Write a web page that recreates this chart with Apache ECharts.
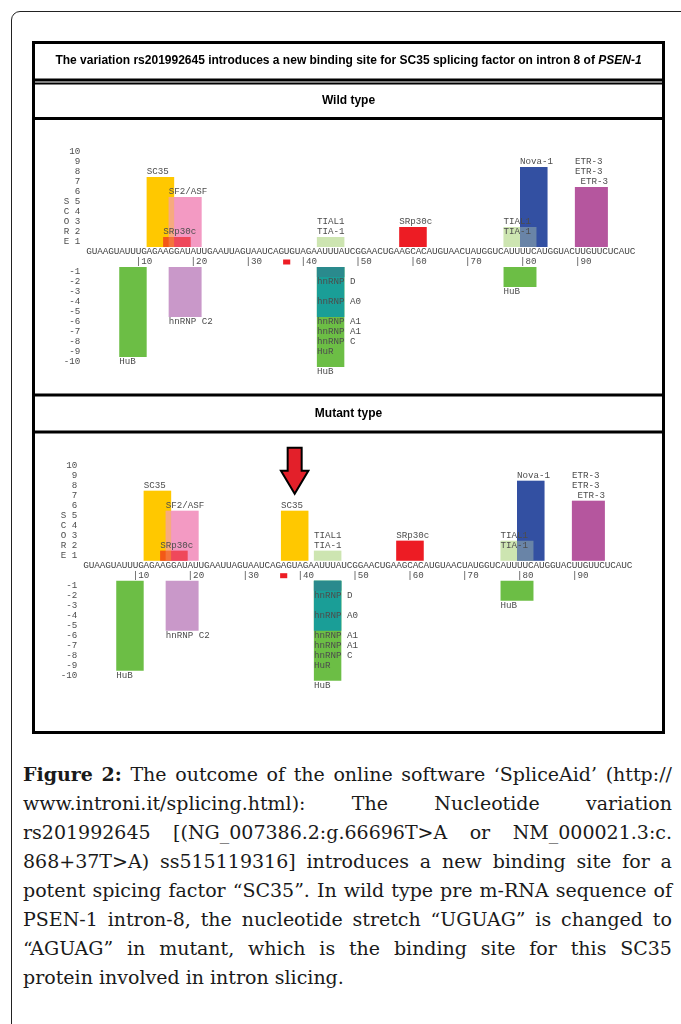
<!DOCTYPE html>
<html lang="en">
<head>
<meta charset="UTF-8">
<title>SpliceAid - SC35 site</title>
<script src="https://cdn.jsdelivr.net/npm/echarts@6/dist/echarts.min.js"></script>
<style>
  html, body { margin: 0; width: 681px; height: 1024px; overflow: hidden; background: #fff; }
  #frame { position: absolute; left: 11px; top: 11px; width: 740px; height: 1100px;
           border: 1px solid #222; border-top-left-radius: 9px; }
  #chart { position: absolute; left: 0; top: 0; width: 681px; height: 745px; }
  #caption { position: absolute; left: 23px; top: 760px; width: 649px;
             font-family: "DejaVu Serif"; font-size: 19px; color: #1a1a1a; }
  .line { display: flex; justify-content: space-between; height: 29px; line-height: 29px; white-space: nowrap; }
  .line.last { display: block; }
</style>
</head>
<body>
<div id="frame"></div>
<div id="chart"></div>
<div id="caption"></div>
<script>
// sequences (positions 1..100)
var seqWild   = 'GUAAGUAUUUGAGAAGGAUAUUGAAUUAGUAAUCAGUGUAGAAUUUAUCGGAACUGAAGCACAUGUAACUAUGGUCAUUUUCAUGGUACUUGUUCUCAUC';
var seqMutant = 'GUAAGUAUUUGAGAAGGAUAUUGAAUUAGUAAUCAGAGUAGAAUUUAUCGGAACUGAAGCACAUGUAACUAUGGUCAUUUUCAUGGUACUUGUUCUCAUC';
var positionTicks = [10, 20, 30, 40, 50, 60, 70, 80, 90];
var scoreLetters = ['E', 'R', 'O', 'C', 'S'];
var mutationPos = 37;

// binding sites: [protein, start, end, score]
var wildUp = [
  ['SC35', 11, 16, 7],
  ['SF2/ASF', 15, 21, 5],
  ['SRp30c', 14, 19, 1],
  ['TIAL1', 42, 47, 1],
  ['SRp30c', 57, 62, 2],
  ['TIAL1', 76, 82, 2],
  ['Nova-1', 79, 84, 8],
  ['ETR-3', 89, 95, 6]
];
var wildDown = [
  ['HuB', 6, 11, -9],
  ['hnRNP C2', 15, 21, -5],
  ['HuB', 42, 47, -10],
  ['hnRNP A0', 42, 47, -5],
  ['hnRNP D', 42, 47, -1],
  ['HuB', 76, 82, -2]
];
var mutantUp = [
  ['SC35', 11, 16, 7],
  ['SF2/ASF', 15, 21, 5],
  ['SRp30c', 14, 19, 1],
  ['SC35', 36, 41, 5],
  ['TIAL1', 42, 47, 1],
  ['SRp30c', 57, 62, 2],
  ['TIAL1', 76, 82, 2],
  ['Nova-1', 79, 84, 8],
  ['ETR-3', 89, 95, 6]
];
var mutantDown = wildDown;
var newSite = [36, 41, 5];

// labels: [text, start, level]
var wildUpLabels = [
  ['SC35', 11, 8], ['SF2/ASF', 15, 6], ['SRp30c', 14, 2],
  ['TIAL1', 42, 3], ['TIA-1', 42, 2], ['SRp30c', 57, 3],
  ['TIAL1', 76, 3], ['TIA-1', 76, 2], ['Nova-1', 79, 9],
  ['ETR-3', 89, 9], ['ETR-3', 89, 8], ['ETR-3', 90, 7]
];
var mutantUpLabels = wildUpLabels.concat([['SC35', 36, 6]]);
var downLabels = [
  ['HuB', 6, -10], ['hnRNP C2', 15, -6],
  ['hnRNP D', 42, -2], ['hnRNP A0', 42, -4], ['hnRNP A1', 42, -6], ['hnRNP A1', 42, -7],
  ['hnRNP C', 42, -8], ['HuR', 42, -9], ['HuB', 42, -11], ['HuB', 76, -3]
];

var colors = {
  'SC35': '#FFC800', 'SF2/ASF': '#F39AC3', 'SRp30c': '#ED1C24', 'TIAL1': '#CDE5B1',
  'Nova-1': '#3450A2', 'ETR-3': '#B5579F', 'HuB': '#6CBE45', 'hnRNP C2': '#C998C9',
  'hnRNP A0': '#1A9E97', 'hnRNP D': '#2A8A8D'
};

var mono = 'Liberation Mono';
var txtColor = '#4d4d4d';

function barSeries(list, gi, up, alpha, z) {
  return {
    type: 'custom', xAxisIndex: gi, yAxisIndex: gi, z: z, silent: true,
    encode: { x: [0, 1], y: 2 },
    data: list.map(function (b) { return [b[1], b[2], b[3]]; }),
    renderItem: function (params, api) {
      var base = up ? 0.5 : -0.5;
      var p0 = api.coord([api.value(0), base]);
      var p1 = api.coord([api.value(1), api.value(2) + base]);
      return {
        type: 'rect',
        shape: { x: p0[0], y: Math.min(p0[1], p1[1]), width: p1[0] - p0[0], height: Math.abs(p1[1] - p0[1]) },
        style: { fill: colors[list[params.dataIndex][0]], opacity: alpha }
      };
    }
  };
}

function textSeries(list, gi, z) {
  return {
    type: 'custom', xAxisIndex: gi, yAxisIndex: gi, z: z, silent: true,
    data: list.map(function (l) { return [l[1], l[2]]; }),
    renderItem: function (params, api) {
      var p = api.coord([api.value(0), api.value(1)]);
      return {
        type: 'text', x: p[0], y: p[1],
        style: { text: list[params.dataIndex][0], fill: txtColor, fontFamily: mono, fontSize: 9.2,
                 align: 'left', verticalAlign: 'middle' }
      };
    }
  };
}

function seqSeries(seq, gi) {
  return {
    type: 'custom', xAxisIndex: gi, yAxisIndex: gi, z: 4, silent: true,
    data: seq.split('').map(function (c, i) { return [i + 0.5, 0]; }),
    renderItem: function (params, api) {
      var p = api.coord([api.value(0), api.value(1)]);
      return {
        type: 'text', x: p[0], y: p[1],
        style: { text: seq.charAt(params.dataIndex), fill: '#444', fontFamily: mono, fontSize: 9.4,
                 align: 'center', verticalAlign: 'middle' }
      };
    }
  };
}

function tickSeries(gi) {
  return {
    type: 'custom', xAxisIndex: gi, yAxisIndex: gi, z: 4, silent: true,
    data: positionTicks.map(function (t) { return [t - 1, 0]; }),
    renderItem: function (params, api) {
      var p = api.coord([api.value(0), api.value(1)]);
      return {
        type: 'text', x: p[0], y: p[1],
        style: { text: '|' + positionTicks[params.dataIndex], fill: txtColor, fontFamily: mono, fontSize: 9.2,
                 align: 'left', verticalAlign: 'middle' }
      };
    }
  };
}

function markerSeries(gi) {
  return {
    type: 'custom', xAxisIndex: gi, yAxisIndex: gi, z: 4, silent: true,
    data: [[mutationPos - 0.5, 0]],
    renderItem: function (params, api) {
      var p = api.coord([api.value(0), api.value(1)]);
      var w = api.size([1.3, 0])[0];
      return { type: 'rect', shape: { x: p[0] - w / 2, y: p[1] - 2.5, width: w, height: 5 },
               style: { fill: '#ED1C24' } };
    }
  };
}

function arrowSeries(gi) {
  return {
    type: 'custom', xAxisIndex: gi, yAxisIndex: gi, z: 6, silent: true,
    data: [newSite],
    encode: { x: [0, 1], y: 2 },
    renderItem: function (params, api) {
      var l = api.coord([api.value(0), api.value(2) + 0.5]);
      var r = api.coord([api.value(1), api.value(2) + 0.5]);
      var cx = (l[0] + r[0]) / 2, top = l[1];
      var hb = top - 40, st = top - 63, sw = 7;
      return {
        type: 'polygon',
        shape: { points: [[cx, top - 17], [l[0], hb], [cx - sw, hb], [cx - sw, st], [cx + sw, st], [cx + sw, hb], [r[0], hb]] },
        style: { fill: '#E3202A', stroke: '#000', lineWidth: 2 }
      };
    }
  };
}

function upFormatter(v) {
  if (v < 1 || v > 10) return '';
  return v <= 5 ? scoreLetters[v - 1] + ' ' + v : String(v);
}
function downFormatter(v) {
  return (v <= -1 && v >= -10) ? String(v) : '';
}

var plotW = 549;
var grids = [
  { left: 86.3, top: 142, width: plotW, height: 110 },
  { left: 86.3, top: 262, width: plotW, height: 110 },
  { left: 83.3, top: 455.7, width: plotW, height: 110 },
  { left: 83.3, top: 575.7, width: plotW, height: 110 }
];
var xAxes = grids.map(function (g, i) {
  return { type: 'value', gridIndex: i, min: 0, max: 100, show: false };
});
var yAxes = grids.map(function (g, i) {
  var up = i % 2 === 0;
  return {
    type: 'value', gridIndex: i, min: up ? 0 : -11, max: up ? 11 : 0, interval: 1,
    axisLine: { show: false }, axisTick: { show: false }, splitLine: { show: false },
    axisLabel: { formatter: up ? upFormatter : downFormatter, color: txtColor, fontFamily: mono, fontSize: 9.2, margin: 6 }
  };
});

var series = [
  barSeries(wildUp, 0, true, 1, 2),
  barSeries(wildUp.slice().reverse(), 0, true, 0.35, 3),
  barSeries(wildDown, 1, false, 1, 2),
  barSeries(mutantUp, 2, true, 1, 2),
  barSeries(mutantUp.slice().reverse(), 2, true, 0.35, 3),
  barSeries(mutantDown, 3, false, 1, 2),
  seqSeries(seqWild, 0), seqSeries(seqMutant, 2),
  tickSeries(1), tickSeries(3),
  markerSeries(1), markerSeries(3),
  textSeries(wildUpLabels, 0, 5), textSeries(downLabels, 1, 5),
  textSeries(mutantUpLabels, 2, 5), textSeries(downLabels, 3, 5),
  arrowSeries(2)
];

var boxX1 = 33, boxX2 = 664;
function hline(y, w) {
  return { type: 'line', shape: { x1: boxX1, y1: y, x2: boxX2, y2: y }, style: { stroke: '#000', lineWidth: w } };
}
var headFont = { fontFamily: 'Liberation Sans', fontSize: 12, fontWeight: 'bold', fill: '#000' };

var chart = echarts.init(document.getElementById('chart'));
chart.setOption({
  animation: false,
  grid: grids,
  xAxis: xAxes,
  yAxis: yAxes,
  series: series,
  graphic: [
    { type: 'rect', shape: { x: 33.5, y: 42.5, width: 630, height: 690 }, style: { fill: 'none', stroke: '#000', lineWidth: 3 } },
    hline(80, 3), hline(83.5, 2), hline(118.5, 3), hline(395, 3), hline(432, 3),
    {
      type: 'text', x: 348.5, y: 60.5,
      style: {
        text: '{a|The variation rs201992645 introduces a new binding site for SC35 splicing factor on intron 8 of }{b|PSEN-1}',
        align: 'center', verticalAlign: 'middle',
        rich: {
          a: headFont,
          b: { fontFamily: 'Liberation Sans', fontSize: 12, fontWeight: 'bold', fontStyle: 'italic', fill: '#000' }
        }
      }
    },
    { type: 'text', x: 348.5, y: 100.5, style: Object.assign({ text: 'Wild type', align: 'center', verticalAlign: 'middle' }, headFont) },
    { type: 'text', x: 348.5, y: 413.5, style: Object.assign({ text: 'Mutant type', align: 'center', verticalAlign: 'middle' }, headFont) }
  ]
});

// caption
var captionLines = [
  '<b>Figure</b> <b>2:</b> The outcome of the online software ‘SpliceAid’ (http://',
  'www.introni.it/splicing.html): The Nucleotide variation',
  'rs201992645 [(NG_007386.2:g.66696T&gt;A or NM_000021.3:c.',
  '868+37T&gt;A) ss515119316] introduces a new binding site for a',
  'potent spicing factor “SC35”. In wild type pre m-RNA sequence of',
  'PSEN-1 intron-8, the nucleotide stretch “UGUAG” is changed to',
  '“AGUAG” in mutant, which is the binding site for this SC35',
  'protein involved in intron slicing.'
];
var cap = document.getElementById('caption');
captionLines.forEach(function (line, i) {
  var div = document.createElement('div');
  if (i === captionLines.length - 1) {
    div.className = 'line last';
    div.innerHTML = line;
  } else {
    div.className = 'line';
    div.innerHTML = line.split(' ').map(function (w) { return '<span>' + w + '</span>'; }).join('');
  }
  cap.appendChild(div);
});
</script>
</body>
</html>
